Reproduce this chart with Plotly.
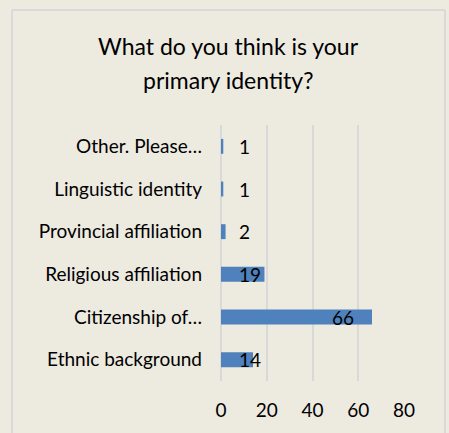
import plotly.graph_objects as go

# Survey responses, listed bottom-to-top as they appear on the axis
categories = ["Ethnic background", "Citizenship of…", "Religious affiliation",
              "Provincial affiliation", "Linguistic identity", "Other. Please…"]
counts = [14, 66, 19, 2, 1, 1]
x_ticks = [0, 20, 40, 60, 80]

title_lines = ["What do you think is your", "primary identity?"]

FONT = "Lato, 'Open Sans', sans-serif"
BAR = "#4F81BD"
BG = "#EDEAE0"
GRID = "#D9D9D9"

fig = go.Figure()
fig.add_trace(go.Bar(
    x=counts, y=categories, orientation="h",
    marker=dict(color=BAR, line=dict(width=0)),
    hoverinfo="skip",
))

# Value labels: large bars labelled inside their end, small ones just past the axis
for cat, v in zip(categories, counts):
    if v > 40:
        fig.add_annotation(x=v, y=cat, text=str(v), showarrow=False,
                           xanchor="right", xshift=-16,
                           font=dict(family=FONT, size=19, color="#000000"))
    else:
        fig.add_annotation(x=0, y=cat, text=str(v), showarrow=False,
                           xanchor="left", xshift=16,
                           font=dict(family=FONT, size=19, color="#000000"))

for i, line in enumerate(title_lines):
    fig.add_annotation(xref="paper", yref="paper", x=0.04, y=1.0, text=line,
                       showarrow=False, xanchor="center", yanchor="middle",
                       yshift=79 - 34 * i,
                       font=dict(family=FONT, size=23, color="#000000"))

# Chart frame lines
fig.add_shape(type="line", xref="paper", yref="paper", x0=-1.142, x1=-1.142,
              y0=1.4496, y1=-0.3, line=dict(color=GRID, width=2))
fig.add_shape(type="line", xref="paper", yref="paper", x0=1.224, x1=1.224,
              y0=1.4496, y1=-0.3, line=dict(color=GRID, width=2))
fig.add_shape(type="line", xref="paper", yref="paper", x0=-1.142, x1=1.224,
              y0=1.4496, y1=1.4496, line=dict(color=GRID, width=2))

fig.update_layout(
    width=449, height=433,
    margin=dict(l=221, r=45, t=125, b=50),
    paper_bgcolor=BG, plot_bgcolor=BG,
    showlegend=False,
    bargap=0.65,
    xaxis=dict(range=[0, 80], tickvals=x_ticks, showgrid=True, gridcolor=GRID,
               gridwidth=1.5, zeroline=True, zerolinecolor=GRID, zerolinewidth=1.5,
               showline=False, ticks="", ticklabelstandoff=16,
               tickfont=dict(family=FONT, size=19, color="#000000"),
               fixedrange=True),
    yaxis=dict(categoryorder="array", categoryarray=categories, showgrid=False,
               showline=False, ticks="", ticklabelstandoff=18,
               tickfont=dict(family=FONT, size=19, color="#000000"),
               fixedrange=True),
)

fig.write_html("out.html", config={"displayModeBar": False})
